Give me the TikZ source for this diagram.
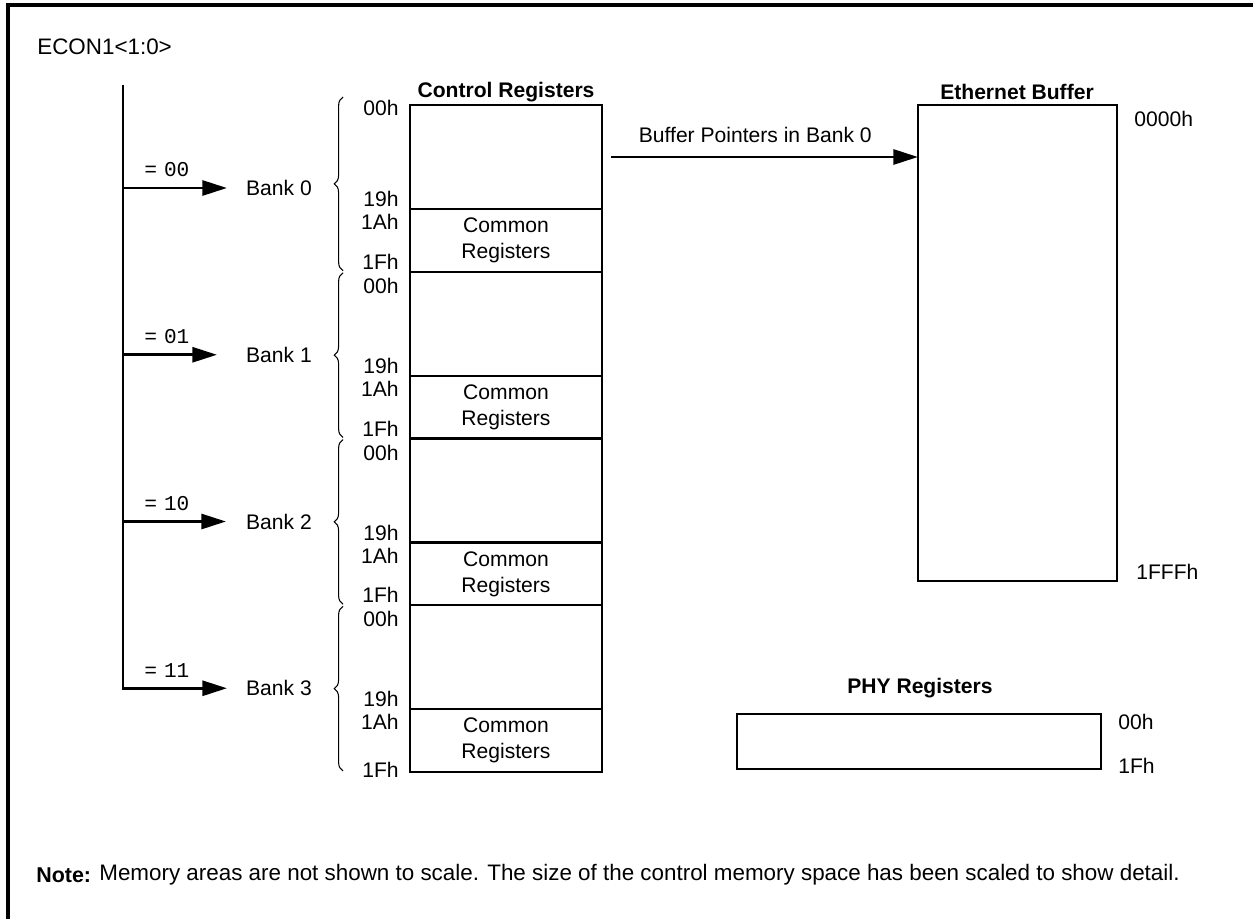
\documentclass[tikz,border=0pt]{standalone}
\usepackage{fontspec}
\setmainfont{Liberation Sans}
\setmonofont{Liberation Mono}
\usepackage{tikz}
\usetikzlibrary{arrows.meta, positioning, decorations.pathreplacing, calc}

\def\pu{0.02cm}
\tikzset{
  membox/.style={draw, line width=1.4pt, inner sep=0pt, outer sep=0pt, anchor=north west},
  ttl/.style={font=\fontsize{12}{14.8}\selectfont\bfseries},
  big/.style={font=\fontsize{12.75}{15}\selectfont},
  addr/.style={inner sep=0pt},
  bus/.style={line width=1.7pt},
  busarrow/.style={bus, -{Triangle[length=14pt, width=8.5pt]}},
  bankbrace/.style={decorate, decoration={brace, amplitude=5pt}, line width=0.6pt},
}

\begin{document}
\begin{tikzpicture}[x=\pu, y=-\pu, font=\fontsize{12}{14.8}\selectfont]
  \useasboundingbox (0,0) rectangle (1253,919);
  % outer frame
  \draw[line width=1.8pt] (8,919) -- (8,5) -- (1253,5);

  \node[big, anchor=west, inner sep=0pt] (econ) at (37,47) {ECON1<1:0>};
  \node[ttl] (crtitle) at (506,92) {Control Registers};
  \node[ttl] (ebtitle) at (1017,92) {Ethernet Buffer};
  \node[ttl] (phytitle) at (920,688) {PHY Registers};

  % bank select bus
  \coordinate (bustop) at (123,85);
  \coordinate (busend) at (123,690);
  \draw[bus] (bustop) -- (busend);

  \foreach \b/\bits/\len in {0/00/104, 1/01/94, 2/10/103, 3/11/104} {
    \pgfmathsetmacro\T{105+166.75*\b}
    \pgfmathsetmacro\D{\T+104}
    \pgfmathsetmacro\B{\T+166.75}
    \pgfmathsetmacro\Y{\T+83}
    \pgfmathsetmacro\zoff{\b==0 ? 3 : 14}
    \pgfmathsetmacro\foff{\b==3 ? 2 : 10}
    \pgfmathsetmacro\btop{\b==0 ? \T-8 : \T+1}
    % register cells
    \node[membox, minimum width=192*\pu, minimum height=104*\pu] (sfr\b) at (410,\T) {};
    \node[membox, minimum width=192*\pu, minimum height=62.75*\pu, align=center]
      (com\b) at (sfr\b.south west) {Common\\Registers};
    % bank label and select arrow
    \node (bank\b) at (279,\Y) {Bank \b};
    \draw[busarrow] (bustop |- bank\b) -- ++(\len,0);
    \node (sel\b) at (167,\Y-18) {=\,\,{\ttfamily\bits}};
    \draw[bankbrace] (343,\B-1) -- (343,\btop);
    % addresses
    \node[addr, anchor=east] (a00\b) at (399,\T+\zoff) {00h};
    \node[addr, anchor=east] (a19\b) at (399,\D-10) {19h};
    \node[addr, anchor=east] (a1A\b) at (399,\D+13) {1Ah};
    \node[addr, anchor=east] (a1F\b) at (399,\B-\foff) {1Fh};
  }

  % ethernet buffer
  \node[membox, minimum width=199*\pu, minimum height=476*\pu] (ebuf) at (918,105) {};
  \node[addr, anchor=west] (ebtop) at (1134,119) {0000h};
  \node[addr, anchor=west] (ebbot) at (1136,572) {1FFFh};
  \coordinate (ptr) at ([xshift=9*\pu]sfr0.east);
  \draw[busarrow] (ptr) -- node[above=4pt, pos=0.47] (ptrlbl) {Buffer Pointers in Bank 0} (ptr -| ebuf.west);

  % phy registers
  \node[membox, minimum width=364*\pu, minimum height=55*\pu] (phy) at (737,714) {};
  \node[addr, anchor=west] (phytop) at (1118,722) {00h};
  \node[addr, anchor=west] (phybot) at (1118,766) {1Fh};

  \node[anchor=west, inner sep=0pt, font=\fontsize{12.2}{14.8}\selectfont\bfseries] (notehd) at (36,875) {Note:};
  \node[big, anchor=west, inner sep=0pt] (note) at (99,875) {Memory areas are not shown to scale. The size of the control memory space has been scaled to show detail.};
\end{tikzpicture}
\end{document}
